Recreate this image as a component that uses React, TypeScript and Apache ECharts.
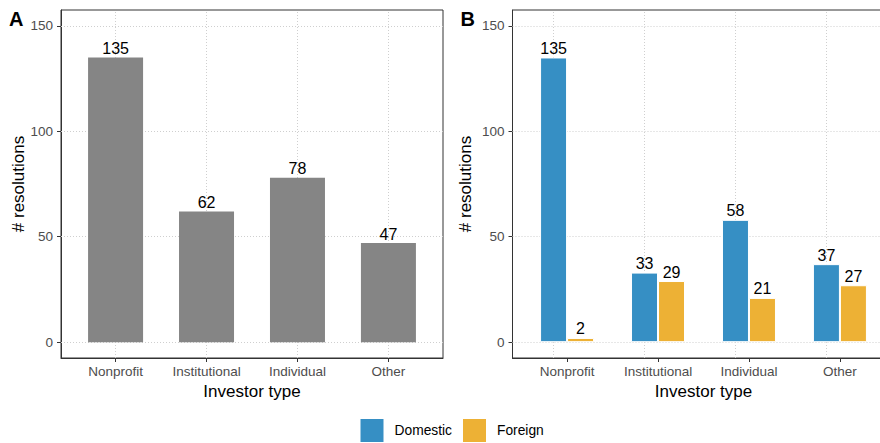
import React, { useEffect, useRef } from "react";
import * as echarts from "echarts";

// Resolutions by investor type (A) and split by investor origin (B)
const categories = ["Nonprofit", "Institutional", "Individual", "Other"];
const totalResolutions = [135, 62, 78, 47];
const domesticResolutions = [135, 33, 58, 37];
const foreignResolutions = [2, 29, 21, 27];
const yTicks = [0, 50, 100, 150];

const FONT = "'Liberation Sans', Arial, Helvetica, sans-serif";
const BORDER = "#333333";
const GRID_LINE = "#CFCFCF";
const TICK_LABEL = "#4D4D4D";
const GREY_BAR = "#858585";
const BLUE = "#368FC4";
const YELLOW = "#EDB135";

// category index -> position on a numeric axis (1-based, like a discrete scale)
const pos = (i: number) => i + 1;
const catPositions = categories.map((_, i) => pos(i));

function gridLines() {
  return {
    silent: true,
    symbol: "none",
    z: 1,
    label: { show: false },
    emphasis: { disabled: true },
    lineStyle: { type: [1, 2], color: GRID_LINE, width: 1 },
    data: [
      ...yTicks.map((v) => ({ yAxis: v })),
      ...catPositions.map((p) => ({ xAxis: p })),
    ],
  };
}

function xAxis(gridIndex: number) {
  return {
    type: "value",
    gridIndex,
    min: 0.4,
    max: 4.6,
    splitLine: { show: false },
    axisLine: { show: true, onZero: false, lineStyle: { color: BORDER, width: 1 } },
    axisTick: {
      show: true,
      customValues: catPositions,
      length: 4,
      lineStyle: { color: BORDER, width: 1 },
    },
    axisLabel: {
      customValues: catPositions,
      formatter: (v: number) => categories[Math.round(v) - 1] ?? "",
      color: TICK_LABEL,
      fontSize: 13.5,
      fontFamily: FONT,
      margin: 6,
    },
    name: "Investor type",
    nameLocation: "middle",
    nameGap: 24,
    nameTextStyle: { color: "#000", fontSize: 17, fontFamily: FONT },
  };
}

function yAxis(gridIndex: number, nameGap: number) {
  return {
    type: "value",
    gridIndex,
    min: -7.5,
    max: 157.5,
    splitLine: { show: false },
    axisLine: { show: true, onZero: false, lineStyle: { color: BORDER, width: 1 } },
    axisTick: {
      show: true,
      customValues: yTicks,
      length: 4,
      lineStyle: { color: BORDER, width: 1 },
    },
    axisLabel: {
      customValues: yTicks,
      color: TICK_LABEL,
      fontSize: 13.5,
      fontFamily: FONT,
      margin: 8,
    },
    name: "# resolutions",
    nameLocation: "middle",
    nameGap,
    nameTextStyle: { color: "#000", fontSize: 17, fontFamily: FONT },
  };
}

const valueLabel = {
  show: true,
  position: "top",
  distance: 1,
  color: "#000",
  fontSize: 16,
  fontFamily: FONT,
};

export default function App() {
  const ref = useRef<HTMLDivElement>(null);

  useEffect(() => {
    if (!ref.current) return;
    const chart = echarts.init(ref.current, undefined, { renderer: "svg" });

    const panelGrid = {
      top: 10,
      width: 382,
      height: 348,
      show: true,
      borderColor: BORDER,
      borderWidth: 1,
      backgroundColor: "transparent",
      outerBoundsMode: "none",
      containLabel: false,
    };

    chart.setOption({
      animation: false,
      backgroundColor: "#fff",
      textStyle: { fontFamily: FONT },
      grid: [
        { ...panelGrid, left: 61 },
        { ...panelGrid, left: 512.5 },
      ],
      xAxis: [xAxis(0), xAxis(1)],
      yAxis: [yAxis(0, 28), yAxis(1, 39)],
      legend: {
        data: ["Domestic", "Foreign"],
        left: 360.5,
        top: 419,
        padding: 0,
        icon: "rect",
        itemWidth: 23,
        itemHeight: 23,
        itemGap: 11,
        itemStyle: { borderWidth: 0 },
        textStyle: { color: "#000", fontSize: 13.8, fontFamily: FONT, padding: [0, 0, 0, 6] },
      },
      graphic: [
        { type: "text", left: 9, top: 9, style: { text: "A", font: `bold 20px ${FONT}`, fill: "#000" } },
        { type: "text", left: 460.5, top: 9, style: { text: "B", font: `bold 20px ${FONT}`, fill: "#000" } },
      ],
      series: [
        {
          name: "Total",
          type: "bar",
          xAxisIndex: 0,
          yAxisIndex: 0,
          barWidth: 55,
          z: 2,
          itemStyle: { color: GREY_BAR },
          label: valueLabel,
          data: totalResolutions.map((v, i) => [pos(i), v]),
          markLine: gridLines(),
        },
        {
          name: "Domestic",
          type: "bar",
          xAxisIndex: 1,
          yAxisIndex: 1,
          barWidth: 27,
          barGap: "0%",
          z: 2,
          itemStyle: { color: BLUE, borderColor: "#fff", borderWidth: 1 },
          label: valueLabel,
          data: domesticResolutions.map((v, i) => [pos(i), v]),
          markLine: gridLines(),
        },
        {
          name: "Foreign",
          type: "bar",
          xAxisIndex: 1,
          yAxisIndex: 1,
          barWidth: 27,
          barGap: "0%",
          z: 2,
          itemStyle: { color: YELLOW, borderColor: "#fff", borderWidth: 1 },
          label: valueLabel,
          data: foreignResolutions.map((v, i) => [pos(i), v]),
        },
      ],
    });

    return () => chart.dispose();
  }, []);

  return (
    <div
      ref={ref}
      style={{ position: "fixed", left: 0, top: 0, width: 880, height: 443 }}
    />
  );
}
